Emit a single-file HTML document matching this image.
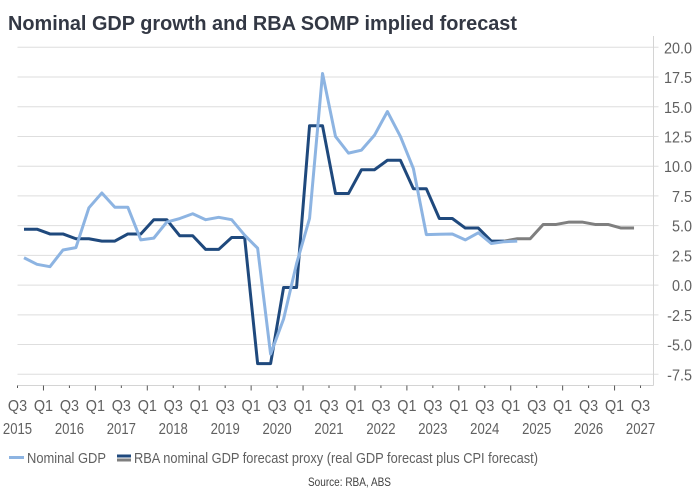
<!DOCTYPE html>
<html lang="en">
<head>
<meta charset="utf-8">
<title>Nominal GDP growth and RBA SOMP implied forecast</title>
<style>
html,body{margin:0;padding:0;background:#fff;width:700px;height:500px;overflow:hidden}
svg{display:block}
text{font-family:"Liberation Sans","DejaVu Sans",sans-serif}
</style>
</head>
<body>
<svg id="chart" width="700" height="500" viewBox="0 0 700 500" xmlns="http://www.w3.org/2000/svg">
  <rect x="0" y="0" width="700" height="500" fill="#ffffff"/>
  <text x="8" y="30" font-size="20.5" font-weight="700" fill="#333844" textLength="509" lengthAdjust="spacingAndGlyphs">Nominal GDP growth and RBA SOMP implied forecast</text>
  <g id="grid"></g>
  <g id="axes"></g>
  <g id="series"></g>
  <g>
    <g>
      <line x1="9" x2="24" y1="457.5" y2="457.5" stroke="#8db4e2" stroke-width="3"/>
      <text x="27" y="463" font-size="14.5" fill="#606060" textLength="79" lengthAdjust="spacingAndGlyphs">Nominal GDP</text>
    </g>
    <g>
      <line x1="117" x2="131" y1="456" y2="456" stroke="#1f497d" stroke-width="3"/>
      <line x1="117" x2="131" y1="460" y2="460" stroke="#7f7f7f" stroke-width="3"/>
      <text x="134" y="463" font-size="14.5" fill="#606060" textLength="404" lengthAdjust="spacingAndGlyphs">RBA nominal GDP forecast proxy (real GDP forecast plus CPI forecast)</text>
    </g>
  </g>
  <text x="308" y="486" font-size="12" fill="#404040" textLength="83" lengthAdjust="spacingAndGlyphs">Source: RBA, ABS</text>
</svg>
<script>
const quarterLabels = ['Q3','Q1','Q3','Q1','Q3','Q1','Q3','Q1','Q3','Q1','Q3','Q1','Q3','Q1','Q3','Q1','Q3','Q1','Q3','Q1','Q3','Q1','Q3','Q1','Q3'];
const yearLabels = ['2015','2016','2017','2018','2019','2020','2021','2022','2023','2024','2025','2026','2027'];
const yTickValues = [20, 17.5, 15, 12.5, 10, 7.5, 5, 2.5, 0, -2.5, -5, -7.5];
const categoryCount = 49;
const nominalGdp = [2.3,1.75,1.55,2.95,3.15,6.5,7.75,6.55,6.55,3.8,3.95,5.3,5.6,6.0,5.5,5.7,5.5,4.2,3.1,-5.8,-2.85,1.8,5.6,17.8,12.5,11.1,11.35,12.6,14.6,12.5,9.8,4.25,4.28,4.3,3.8,4.4,3.5,3.65,3.7];
const rbaActual = [4.7,4.7,4.3,4.3,3.9,3.9,3.7,3.7,4.3,4.3,5.5,5.5,4.15,4.15,3.0,3.0,4.0,4.0,-6.6,-6.6,-0.2,-0.2,13.4,13.4,7.7,7.7,9.7,9.7,10.5,10.5,8.1,8.1,5.6,5.6,4.8,4.8,3.7,3.7];
const rbaForecast = [3.7,3.9,3.9,5.1,5.1,5.3,5.3,5.1,5.1,4.8,4.8];
const rbaForecastStart = 37;

const NS = 'http://www.w3.org/2000/svg';
const plotLeft = 17.5, plotRight = 653.5, plotBottom = 385.5;
const bandWidth = (plotRight - plotLeft) / categoryCount;
const zeroY = 285.1, pxPerUnit = 11.89;
const textSqueeze = 0.82;
function bandX(i) { return plotLeft + bandWidth * i; }
function xScale(i) { return bandX(i) + bandWidth / 2; }
function yScale(v) { return zeroY - v * pxPerUnit; }

function make(tag, attrs, parent, content) {
  const el = document.createElementNS(NS, tag);
  for (const k in attrs) el.setAttribute(k, attrs[k]);
  if (content !== undefined) el.textContent = content;
  parent.appendChild(el);
  return el;
}
function squeeze(el, factor) {
  el.setAttribute('textLength', (el.getComputedTextLength() * factor).toFixed(2));
  el.setAttribute('lengthAdjust', 'spacingAndGlyphs');
}

const grid = document.getElementById('grid');
const axes = document.getElementById('axes');
const series = document.getElementById('series');

yTickValues.forEach(function (v) {
  const y = yScale(v);
  const line = make('line', {x1: plotLeft, x2: plotRight + 5, y1: y, y2: y, stroke: '#dedede', 'stroke-width': 1}, grid);
  
  
  const label = make('text', {x: 692, y: y + 6, 'text-anchor': 'end', 'font-size': 16, fill: '#606060'}, axes, v.toFixed(1));
  
  
  squeeze(label, 0.9);
});

const yAxis = make('line', {x1: plotRight, x2: plotRight, y1: 36, y2: plotBottom, stroke: '#d4d4d4', 'stroke-width': 1}, axes);


const xAxis = make('line', {x1: plotLeft, x2: plotRight, y1: plotBottom, y2: plotBottom, stroke: '#d4d4d4', 'stroke-width': 1}, axes);



quarterLabels.forEach(function (q, idx) {
  const x = bandX(idx * 2);
  const tick = make('line', {x1: x, x2: x, y1: plotBottom, y2: plotBottom + (q === 'Q1' ? 5 : 2.5), stroke: '#555555', 'stroke-width': 1}, axes);
  
  
  const label = make('text', {x: x, y: 411, 'text-anchor': 'middle', 'font-size': 16, fill: '#606060'}, axes, q);
  
  
  squeeze(label, 0.9);
});

yearLabels.forEach(function (yr, idx) {
  const label = make('text', {x: bandX(idx * 4), y: 434, 'text-anchor': 'middle', 'font-size': 16, fill: '#606060'}, axes, yr);
  
  
  squeeze(label, textSqueeze);
});

function linePoints(values, offset) {
  return values.map(function (v, i) {
    return xScale(i + offset).toFixed(2) + ',' + yScale(v).toFixed(2);
  }).join(' ');
}

const rbaActualLine = make('polyline', {points: linePoints(rbaActual, 0), fill: 'none', stroke: '#1f497d', 'stroke-width': 3, 'stroke-linejoin': 'round'}, series);


const rbaForecastLine = make('polyline', {points: linePoints(rbaForecast, rbaForecastStart), fill: 'none', stroke: '#7f7f7f', 'stroke-width': 3, 'stroke-linejoin': 'round'}, series);


const nominalLine = make('polyline', {points: linePoints(nominalGdp, 0), fill: 'none', stroke: '#8db4e2', 'stroke-width': 3, 'stroke-linejoin': 'round'}, series);


</script>
</body>
</html>
